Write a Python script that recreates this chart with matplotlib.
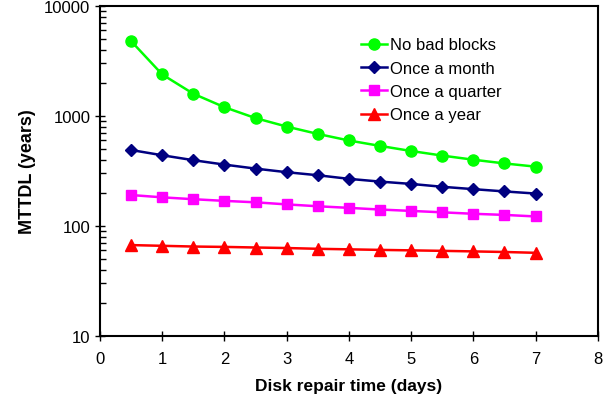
import matplotlib
matplotlib.use("Agg")
import matplotlib.pyplot as plt
from matplotlib.ticker import NullFormatter

plt.rcParams['font.family'] = ['Liberation Sans', 'DejaVu Sans']

# disk repair time (days)
repair_days = [0.5, 1, 1.5, 2, 2.5, 3, 3.5, 4, 4.5, 5, 5.5, 6, 6.5, 7]

# MTTDL (years)
no_bad_blocks = [4780, 2380, 1590, 1200, 955, 800, 686, 598, 534, 480, 436, 400, 370, 346]
once_a_month = [490, 439, 396, 361, 332, 308, 289, 268, 253, 241, 227, 216, 206, 197]
once_a_quarter = [191, 182, 175, 169, 164, 157, 151, 146, 141, 137, 133, 129, 126, 122]
once_a_year = [67, 66, 65, 64.5, 63.7, 63, 62, 61.3, 60.6, 60, 59.4, 58.7, 58, 57]

labels = ["No bad blocks", "Once a month", "Once a quarter", "Once a year"]
y_major = [10, 100, 1000, 10000]
y_minor = [m * d for d in (10, 100, 1000) for m in range(2, 10)]

fig = plt.figure(figsize=(6.1, 4.06), dpi=100)
ax = fig.add_axes([0.164, 0.170, 0.816, 0.813])

ax.plot(repair_days, no_bad_blocks, color='#00FF00', marker='o', markersize=8, lw=1.8, label=labels[0])
ax.plot(repair_days, once_a_month, color='#000080', marker='D', markersize=6, lw=1.8, label=labels[1])
ax.plot(repair_days, once_a_quarter, color='#FF00FF', marker='s', markersize=7.5, lw=1.8, label=labels[2])
ax.plot(repair_days, once_a_year, color='#FF0000', marker='^', markersize=8.5, lw=1.8, label=labels[3])

ax.set_yscale('log')
ax.set_ylim(10, 10000)
ax.set_xlim(0, 8)
ax.set_xticks(range(0, 9))
ax.set_yticks(y_major)
ax.set_yticklabels([str(v) for v in y_major])
ax.set_yticks(y_minor, minor=True)
ax.yaxis.set_minor_formatter(NullFormatter())

for s in ax.spines.values():
    s.set_linewidth(1.5)
ax.tick_params(axis='both', which='major', direction='inout', length=7, width=1, labelsize=12, colors='black')
ax.tick_params(axis='y', which='minor', direction='in', length=4, width=1, left=True)
ax.tick_params(axis='x', pad=7)

ax.set_xlabel("Disk repair time (days)", fontsize=12.5, fontweight='bold', labelpad=9)
ax.set_ylabel("MTTDL (years)", fontsize=13, fontweight='bold', labelpad=6)

ax.legend(loc='upper right', bbox_to_anchor=(0.83, 0.94), frameon=False, fontsize=12,
          handlelength=1.6, handletextpad=0.15, labelspacing=0.5, borderaxespad=0.3)

fig.savefig("out.png", dpi=100)
